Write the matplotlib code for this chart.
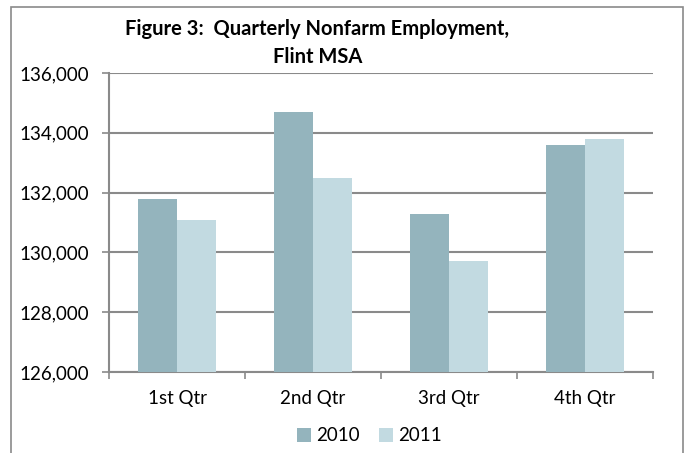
import matplotlib.pyplot as plt
import matplotlib.patches as patches
import numpy as np

# Data
quarters = ['1st Qtr', '2nd Qtr', '3rd Qtr', '4th Qtr']
emp_2010 = [131800, 134700, 131300, 133600]
emp_2011 = [131100, 132500, 129700, 133800]
yticks = [126000, 128000, 130000, 132000, 134000, 136000]

plt.rc('font', family=['Lato', 'DejaVu Sans'])

fig = plt.figure(figsize=(6.88, 4.53), dpi=100)
ax = fig.add_axes([0.1584, 0.1788, 0.791, 0.660])

x = np.arange(len(quarters))
w = 0.287
c2010 = '#94B4BD'
c2011 = '#C2DAE1'
ax.bar(x - w/2, emp_2010, w, color=c2010, label='2010', zorder=3)
ax.bar(x + w/2, emp_2011, w, color=c2011, label='2011', zorder=3)

ax.set_ylim(126000, 136000)
ax.set_xlim(-0.5, 3.5)
ax.set_yticks(yticks)
ax.set_yticklabels(['{:,}'.format(v) for v in yticks], fontsize=13.5)
ax.yaxis.grid(True, color='#8A8A8A', linewidth=1.5, zorder=0)

ax.set_xticks(x)
ax.set_xticklabels(quarters, fontsize=13.5)
ax.tick_params(axis='x', length=0, pad=13)
ax.set_xticks(np.arange(-0.5, 4, 1), minor=True)
ax.tick_params(axis='x', which='minor', length=5, color='#8A8A8A', width=1.2)
ax.tick_params(axis='y', length=5, color='#8A8A8A', width=1.2, pad=9)

for s in ['top', 'right']:
    ax.spines[s].set_visible(False)
for s in ['left', 'bottom']:
    ax.spines[s].set_color('#8A8A8A')
    ax.spines[s].set_linewidth(1.5)

fig.text(0.4615, 0.905, 'Figure 3:  Quarterly Nonfarm Employment,\nFlint MSA',
         ha='center', va='center', fontsize=14.5, fontweight='bold',
         linespacing=1.45)

ax.legend(loc='center', bbox_to_anchor=(0.537, 0.038), bbox_transform=fig.transFigure,
          ncol=2, frameon=False, fontsize=13.5, handlelength=0.75, handleheight=0.75,
          handletextpad=0.3, columnspacing=1.0)

# outer chart border
fig.patches.append(patches.Rectangle((11/688, -0.05), 672/688, 1 - 7/453 + 0.05,
                                     transform=fig.transFigure, fill=False,
                                     edgecolor='#8A8A8A', linewidth=1.2))

fig.savefig('out.png', dpi=100)
